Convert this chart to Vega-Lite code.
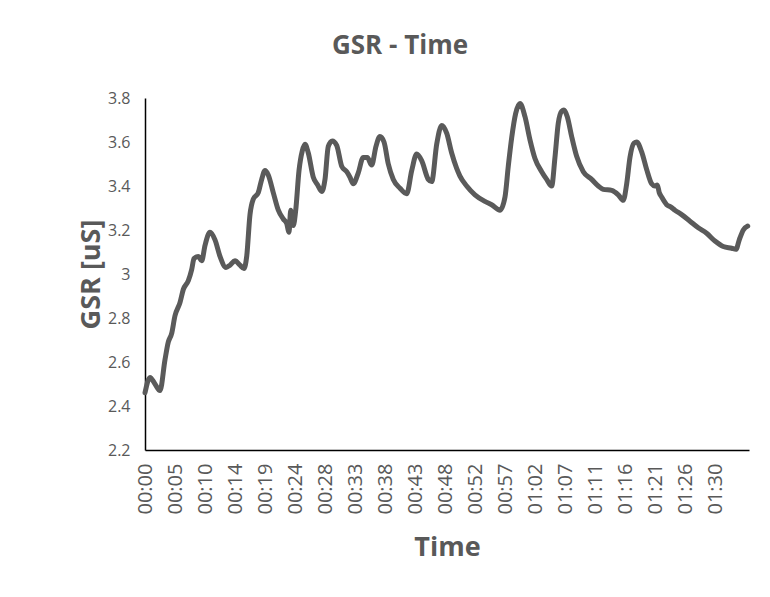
{
  "$schema": "https://vega.github.io/schema/vega-lite/v6.json",
  "width": 604,
  "height": 352,
  "autosize": {"type": "none"},
  "padding": {"left": 145, "top": 98, "right": 21, "bottom": 147},
  "background": "white",
  "config": {"view": {"stroke": null}, "font": "Open Sans"},
  "title": {
    "text": "GSR - Time",
    "fontSize": 26,
    "fontWeight": "bold",
    "color": "#595959",
    "font": "Open Sans",
    "anchor": "middle",
    "offset": 31,
    "dx": -47
  },
  "data": {
    "values": [
      {"t": 0, "gsr": 2.46}, {"t": 0.79, "gsr": 2.53}, {"t": 1.58, "gsr": 2.5}, {"t": 2.37, "gsr": 2.47},
      {"t": 3.16, "gsr": 2.61}, {"t": 3.68, "gsr": 2.69}, {"t": 4.22, "gsr": 2.73}, {"t": 4.74, "gsr": 2.81},
      {"t": 5.53, "gsr": 2.87}, {"t": 6.06, "gsr": 2.93}, {"t": 6.85, "gsr": 2.97}, {"t": 7.38, "gsr": 3.02},
      {"t": 7.75, "gsr": 3.07}, {"t": 8.43, "gsr": 3.08}, {"t": 8.96, "gsr": 3.06}, {"t": 9.49, "gsr": 3.13},
      {"t": 10.28, "gsr": 3.19}, {"t": 11.07, "gsr": 3.155}, {"t": 11.86, "gsr": 3.08}, {"t": 12.81, "gsr": 3.03},
      {"t": 13.44, "gsr": 3.04}, {"t": 14.23, "gsr": 3.06}, {"t": 15.02, "gsr": 3.04}, {"t": 15.65, "gsr": 3.025},
      {"t": 16.08, "gsr": 3.08}, {"t": 16.6, "gsr": 3.27}, {"t": 17.12, "gsr": 3.34}, {"t": 17.91, "gsr": 3.37},
      {"t": 18.45, "gsr": 3.43}, {"t": 18.97, "gsr": 3.47}, {"t": 19.49, "gsr": 3.45}, {"t": 20.28, "gsr": 3.37},
      {"t": 21.08, "gsr": 3.29}, {"t": 21.87, "gsr": 3.25}, {"t": 22.4, "gsr": 3.23}, {"t": 22.77, "gsr": 3.19},
      {"t": 23.04, "gsr": 3.29}, {"t": 23.45, "gsr": 3.22}, {"t": 23.83, "gsr": 3.29}, {"t": 24.35, "gsr": 3.47},
      {"t": 24.87, "gsr": 3.56}, {"t": 25.3, "gsr": 3.59}, {"t": 25.82, "gsr": 3.55}, {"t": 26.61, "gsr": 3.44},
      {"t": 27.3, "gsr": 3.405}, {"t": 27.94, "gsr": 3.375}, {"t": 28.46, "gsr": 3.43}, {"t": 28.98, "gsr": 3.58},
      {"t": 29.61, "gsr": 3.605}, {"t": 30.31, "gsr": 3.585}, {"t": 31.1, "gsr": 3.49}, {"t": 31.89, "gsr": 3.465},
      {"t": 32.41, "gsr": 3.44}, {"t": 32.93, "gsr": 3.41}, {"t": 33.72, "gsr": 3.46}, {"t": 34.51, "gsr": 3.53},
      {"t": 35.15, "gsr": 3.53}, {"t": 35.84, "gsr": 3.495}, {"t": 36.52, "gsr": 3.58}, {"t": 37.15, "gsr": 3.625},
      {"t": 37.79, "gsr": 3.6}, {"t": 38.47, "gsr": 3.5}, {"t": 39.26, "gsr": 3.43}, {"t": 40.32, "gsr": 3.39},
      {"t": 41.38, "gsr": 3.365}, {"t": 42.17, "gsr": 3.47}, {"t": 42.96, "gsr": 3.545}, {"t": 43.75, "gsr": 3.515},
      {"t": 44.79, "gsr": 3.43}, {"t": 45.33, "gsr": 3.42}, {"t": 46.12, "gsr": 3.59}, {"t": 46.91, "gsr": 3.675},
      {"t": 47.7, "gsr": 3.64}, {"t": 48.49, "gsr": 3.55}, {"t": 49.28, "gsr": 3.48}, {"t": 49.8, "gsr": 3.445},
      {"t": 50.86, "gsr": 3.4}, {"t": 52.17, "gsr": 3.36}, {"t": 53.75, "gsr": 3.33}, {"t": 54.81, "gsr": 3.315},
      {"t": 56.13, "gsr": 3.29}, {"t": 56.92, "gsr": 3.35}, {"t": 57.44, "gsr": 3.49}, {"t": 57.98, "gsr": 3.62},
      {"t": 58.61, "gsr": 3.73}, {"t": 59.29, "gsr": 3.775}, {"t": 60.08, "gsr": 3.715}, {"t": 60.87, "gsr": 3.61},
      {"t": 61.66, "gsr": 3.525}, {"t": 62.72, "gsr": 3.465}, {"t": 63.51, "gsr": 3.43}, {"t": 64.3, "gsr": 3.4},
      {"t": 64.82, "gsr": 3.53}, {"t": 65.34, "gsr": 3.685}, {"t": 65.88, "gsr": 3.74}, {"t": 66.24, "gsr": 3.745},
      {"t": 66.77, "gsr": 3.715}, {"t": 67.46, "gsr": 3.625}, {"t": 68.25, "gsr": 3.535}, {"t": 69.3, "gsr": 3.465},
      {"t": 70.62, "gsr": 3.43}, {"t": 71.67, "gsr": 3.4}, {"t": 72.46, "gsr": 3.385}, {"t": 73.79, "gsr": 3.38},
      {"t": 74.83, "gsr": 3.36}, {"t": 75.62, "gsr": 3.335}, {"t": 76.16, "gsr": 3.41}, {"t": 76.68, "gsr": 3.53},
      {"t": 77.31, "gsr": 3.595}, {"t": 77.74, "gsr": 3.6}, {"t": 78.53, "gsr": 3.555}, {"t": 79.32, "gsr": 3.475},
      {"t": 80.11, "gsr": 3.41}, {"t": 80.63, "gsr": 3.4}, {"t": 81.0, "gsr": 3.405}, {"t": 81.31, "gsr": 3.37},
      {"t": 81.69, "gsr": 3.35}, {"t": 82.48, "gsr": 3.315}, {"t": 83.11, "gsr": 3.305}, {"t": 83.79, "gsr": 3.29},
      {"t": 84.85, "gsr": 3.27}, {"t": 86.17, "gsr": 3.24}, {"t": 87.48, "gsr": 3.21}, {"t": 88.8, "gsr": 3.185},
      {"t": 90.12, "gsr": 3.15}, {"t": 91.43, "gsr": 3.125}, {"t": 92.76, "gsr": 3.117}, {"t": 93.44, "gsr": 3.112},
      {"t": 93.96, "gsr": 3.155}, {"t": 94.6, "gsr": 3.2}, {"t": 95.3, "gsr": 3.218}
    ]
  },
  "mark": {
    "type": "line",
    "interpolate": "monotone",
    "color": "#5a5a5a",
    "strokeWidth": 5,
    "strokeCap": "round",
    "strokeJoin": "round"
  },
  "encoding": {
    "x": {
      "field": "t",
      "type": "quantitative",
      "scale": {"domain": [0, 95.5], "nice": false, "zero": false},
      "axis": {
        "title": "Time",
        "values": [0, 4.75, 9.5, 14.25, 19, 23.75, 28.5, 33.25, 38, 42.75, 47.5, 52.25, 57, 61.75, 66.5, 71.25, 76, 80.75, 85.5, 90.25],
        "labelExpr": "['00:00','00:05','00:10','00:14','00:19','00:24','00:28','00:33','00:38','00:43','00:48','00:52','00:57','01:02','01:07','01:11','01:16','01:21','01:26','01:30'][round(datum.value/4.75)]",
        "labelAngle": -90,
        "labelFontSize": 20,
        "labelColor": "#595959",
        "labelPadding": 13,
        "labelFont": "Open Sans",
        "labelOverlap": false,
        "labelFlush": false,
        "ticks": false,
        "grid": false,
        "domainColor": "#000000",
        "domainWidth": 1.5,
        "titleFontSize": 27,
        "titleFontWeight": "bold",
        "titleColor": "#595959",
        "titleFont": "Open Sans",
        "titlePadding": 21
      }
    },
    "y": {
      "field": "gsr",
      "type": "quantitative",
      "title": "GSR [uS]",
      "scale": {"domain": [2.2, 3.8], "nice": false, "zero": false},
      "axis": {
        "values": [2.2, 2.4, 2.6, 2.8, 3, 3.2, 3.4, 3.6, 3.8],
        "format": ".2~f",
        "labelFontSize": 16,
        "labelColor": "#595959",
        "labelPadding": 15,
        "labelFont": "Open Sans",
        "ticks": false,
        "grid": false,
        "domainColor": "#000000",
        "domainWidth": 1.5,
        "titleFontSize": 27,
        "titleFontWeight": "bold",
        "titleColor": "#595959",
        "titleFont": "Open Sans",
        "titlePadding": 2
      }
    }
  }
}
